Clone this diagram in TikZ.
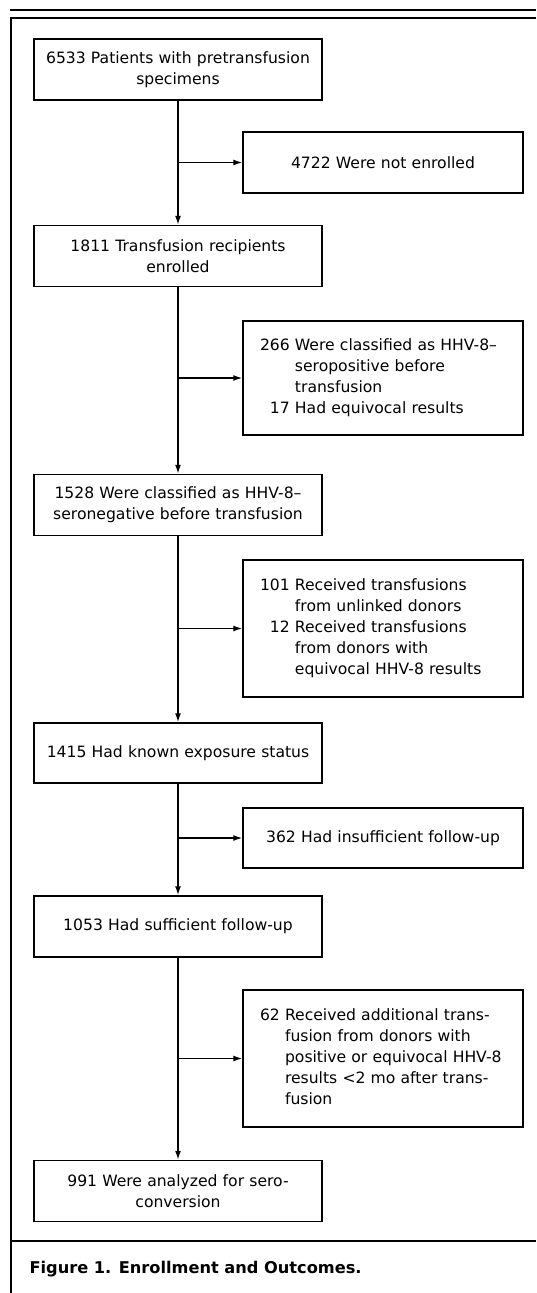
\documentclass[tikz,border=0pt]{standalone}
\usepackage{fontspec}
\setmainfont{DejaVu Sans}
\usetikzlibrary{arrows.meta}

\begin{document}
\begin{tikzpicture}[x=1pt, y=1pt,
  font=\fontsize{15.6}{21}\selectfont,
  mainbox/.style={draw, line width=1.5pt, minimum height=61pt, text width=276pt,
    inner xsep=6pt, align=center},
  sidebox/.style={draw, line width=1.5pt, text width=246pt, inner xsep=17pt, align=left},
  arr/.style={-{Latex[length=9pt,width=6pt]}, line width=1.5pt}]

  \newcommand\MX{178}
  \newcommand\SX{383}

  \useasboundingbox (0,0) rectangle (536,-1293);

  % frame
  \draw[line width=1.5pt] (10,-10) -- (536,-10);
  \draw[line width=1.5pt] (536,-18) -- (11,-18) -- (11,-1293);
  \draw[line width=1.5pt] (11,-1241) -- (536,-1241);

  % main column
  \node[mainbox] (pre) at (\MX,-69.5) {6533 Patients with pretransfusion\\specimens};
  \node[mainbox] (enr) at (\MX,-256) {1811 Transfusion recipients\\enrolled};
  \node[mainbox] (neg) at (\MX,-505) {1528 Were classified as HHV-8–\\seronegative before transfusion};
  \node[mainbox, minimum height=60pt] (known) at (\MX,-753) {1415 Had known exposure status};
  \node[mainbox] (suff) at (\MX,-926.5) {1053 Had sufficient follow-up};
  \node[mainbox] (anal) at (\MX,-1191) {991 Were analyzed for sero-\\conversion};

  % exclusions
  \node[sidebox, minimum height=61pt, align=center] (notenr) at (\SX,-162.5) {4722 Were not enrolled};
  \node[sidebox, minimum height=114pt] (pos) at (\SX,-378)
    {\begin{tabular}{@{}r@{ }l@{}}266 & Were classified as HHV-8–\\ & seropositive before\\
      & transfusion\\ 17 & Had equivocal results\end{tabular}};
  \node[sidebox, minimum height=137pt] (unl) at (\SX,-628.5)
    {\begin{tabular}{@{}r@{ }l@{}}101 & Received transfusions\\ & from unlinked donors\\
      12 & Received transfusions\\ & from donors with\\ & equivocal HHV-8 results\end{tabular}};
  \node[sidebox, minimum height=60pt, align=center] (insuf) at (\SX,-838) {362 Had insufficient follow-up};
  \node[sidebox, minimum height=137pt] (add) at (\SX,-1058.5)
    {\begin{tabular}{@{}r@{ }l@{}}62 & Received additional trans-\\ & fusion from donors with\\
      & positive or equivocal HHV-8\\ & results <2 mo after trans-\\ & fusion\end{tabular}};

  % caption
  \node[anchor=base west, font=\fontsize{16.2}{20}\selectfont\bfseries] (cap) at (26,-1273)
    {Figure 1. Enrollment and Outcomes.};

  \draw[arr] (pre) -- (enr); % pre->enr
  \draw[arr] (enr) -- (neg);
  \draw[arr] (neg) -- (known);
  \draw[arr] (known) -- (suff);
  \draw[arr] (suff) -- (anal);

  \draw[arr, line width=1.3pt] (notenr.west -| pre.south) -- (notenr.west); % out
  \draw[arr, line width=1.3pt] (pos.west -| enr.south) -- (pos.west);
  \draw[arr, line width=1.3pt] (unl.west -| neg.south) -- (unl.west);
  \draw[arr, line width=1.3pt] (insuf.west -| known.south) -- (insuf.west);
  \draw[arr, line width=1.3pt] (add.west -| suff.south) -- (add.west);

\end{tikzpicture}
\end{document}
